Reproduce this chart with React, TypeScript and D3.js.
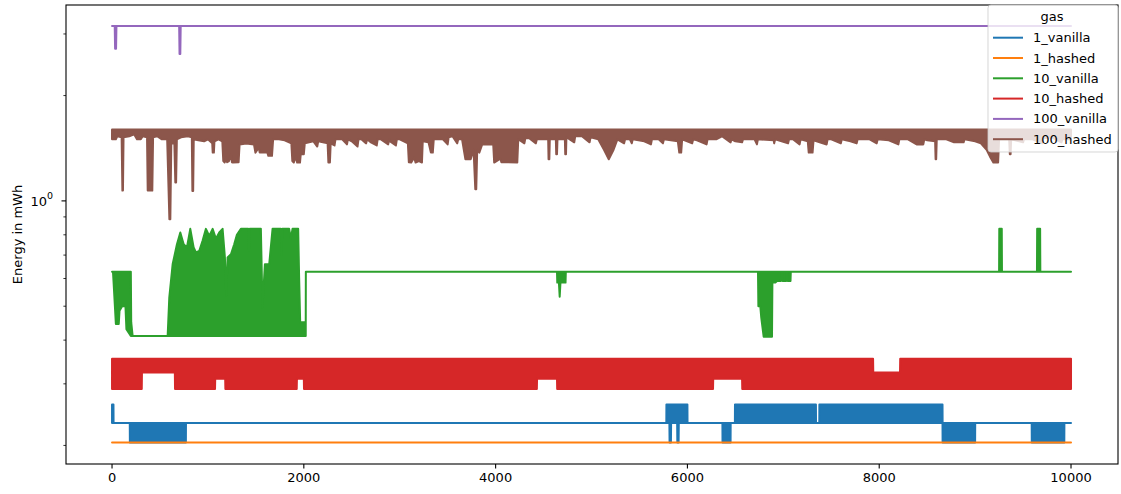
import React from 'react'
import * as d3 from 'd3'

// series are kept as envelopes: [step, low, high] in mWh
const seriesNames = ['1_vanilla', '1_hashed', '10_vanilla', '10_hashed', '100_vanilla', '100_hashed']
const seriesColors = ['#1f77b4', '#ff7f0e', '#2ca02c', '#d62728', '#9467bd', '#8c564b']

const xTicks = [0, 2000, 4000, 6000, 8000, 10000]
const yMajorTicks = [1]
const yMinorTicks = [0.2, 0.3, 0.4, 0.5, 0.6, 0.7, 0.8, 0.9, 2, 3]

const vanilla1 = [
  [0, 0.232, 0.262], [15, 0.232, 0.262], [16, 0.232, 0.232], [185, 0.232, 0.232],
  [186, 0.204, 0.232], [770, 0.204, 0.232], [771, 0.232, 0.232], [5780, 0.232, 0.232],
  [5781, 0.232, 0.262], [5812, 0.232, 0.262], [5814, 0.204, 0.262], [5828, 0.204, 0.262],
  [5830, 0.232, 0.262], [5893, 0.232, 0.262], [5895, 0.204, 0.262], [5908, 0.204, 0.262],
  [5910, 0.232, 0.262], [6000, 0.232, 0.262], [6001, 0.232, 0.232], [6365, 0.232, 0.232],
  [6366, 0.204, 0.232], [6450, 0.204, 0.232], [6451, 0.232, 0.232], [6495, 0.232, 0.232],
  [6496, 0.232, 0.262], [7340, 0.232, 0.262], [7341, 0.232, 0.232], [7375, 0.232, 0.232],
  [7376, 0.232, 0.262], [8660, 0.232, 0.262], [8661, 0.204, 0.232], [9000, 0.204, 0.232],
  [9001, 0.232, 0.232], [9590, 0.232, 0.232], [9591, 0.204, 0.232], [9930, 0.204, 0.232],
  [9931, 0.232, 0.232], [10000, 0.232, 0.232],
]

const hashed1 = [[0, 0.204, 0.204], [10000, 0.204, 0.204]]

const vanilla10 = [
  [0, 0.627, 0.627], [10, 0.627, 0.627], [17, 0.58, 0.627], [40, 0.445, 0.627],
  [70, 0.445, 0.627], [78, 0.485, 0.627], [105, 0.5, 0.627], [140, 0.5, 0.627],
  [150, 0.43, 0.627], [196, 0.411, 0.627], [200, 0.411, 0.45], [215, 0.411, 0.411],
  [580, 0.411, 0.411], [597, 0.411, 0.529], [632, 0.411, 0.659], [677, 0.411, 0.752],
  [712, 0.411, 0.812], [747, 0.411, 0.752], [781, 0.411, 0.736], [816, 0.411, 0.832],
  [851, 0.411, 0.736], [875, 0.411, 0.712], [910, 0.411, 0.72], [944, 0.411, 0.769],
  [979, 0.411, 0.832], [1014, 0.411, 0.794], [1049, 0.411, 0.832], [1083, 0.411, 0.78],
  [1118, 0.411, 0.812], [1153, 0.411, 0.832], [1177, 0.411, 0.689], [1191, 0.411, 0.535],
  [1205, 0.411, 0.689], [1240, 0.411, 0.704], [1274, 0.411, 0.752], [1302, 0.411, 0.8],
  [1344, 0.411, 0.832], [1420, 0.411, 0.832], [1428, 0.411, 0.72], [1436, 0.411, 0.832],
  [1552, 0.411, 0.832], [1569, 0.411, 0.496], [1594, 0.411, 0.659],
  [1639, 0.411, 0.659], [1674, 0.411, 0.832], [1760, 0.411, 0.832], [1768, 0.411, 0.7],
  [1776, 0.411, 0.832], [1847, 0.411, 0.832], [1865, 0.411, 0.78],
  [1882, 0.411, 0.832], [1941, 0.411, 0.832], [1951, 0.411, 0.604], [1962, 0.411, 0.45],
  [2020, 0.411, 0.45], [2021, 0.627, 0.627], [4640, 0.627, 0.627], [4643, 0.584, 0.627],
  [4660, 0.584, 0.627], [4668, 0.532, 0.627], [4676, 0.584, 0.627], [4729, 0.584, 0.627],
  [4732, 0.627, 0.627], [6736, 0.627, 0.627], [6740, 0.5, 0.627], [6760, 0.5, 0.627],
  [6770, 0.464, 0.627], [6795, 0.409, 0.627], [6882, 0.409, 0.627], [6886, 0.584, 0.627],
  [6917, 0.584, 0.627], [6934, 0.59, 0.627], [6975, 0.59, 0.627], [6978, 0.627, 0.627],
  [6990, 0.627, 0.627], [6993, 0.59, 0.627], [7030, 0.59, 0.627], [7033, 0.627, 0.627],
  [7043, 0.627, 0.627], [7046, 0.59, 0.627], [7075, 0.59, 0.627], [7078, 0.627, 0.627],
  [9250, 0.627, 0.627], [9252, 0.627, 0.832], [9278, 0.627, 0.832], [9280, 0.627, 0.627],
  [9645, 0.627, 0.627], [9647, 0.627, 0.832], [9678, 0.627, 0.832], [9680, 0.627, 0.627],
  [10000, 0.627, 0.627],
]

const hashed10 = [
  [0, 0.29, 0.354], [310, 0.29, 0.354], [312, 0.323, 0.354], [655, 0.323, 0.354],
  [657, 0.29, 0.354], [1074, 0.29, 0.354], [1076, 0.31, 0.354], [1180, 0.31, 0.354],
  [1182, 0.29, 0.354], [1926, 0.29, 0.354], [1928, 0.31, 0.354], [2000, 0.31, 0.354],
  [2002, 0.29, 0.354], [4430, 0.29, 0.354], [4432, 0.31, 0.354], [4640, 0.31, 0.354],
  [4642, 0.29, 0.354], [6267, 0.29, 0.354], [6269, 0.31, 0.354], [6570, 0.31, 0.354],
  [6572, 0.29, 0.354], [7936, 0.29, 0.354], [7938, 0.29, 0.323], [8217, 0.29, 0.323],
  [8219, 0.29, 0.354], [10000, 0.29, 0.354],
]

const vanilla100 = [
  [0, 3.16, 3.16], [28, 3.16, 3.16], [32, 2.72, 3.16], [42, 2.72, 3.16], [46, 3.16, 3.16],
  [700, 3.16, 3.16], [704, 2.63, 3.16], [712, 2.63, 3.16], [716, 3.16, 3.16], [10000, 3.16, 3.16],
]

// 100_hashed sits at its top of 1.6 and dips down from it
const hashed100Top = 1.6
const hashed100Low = [
  [0, 1.5], [40, 1.5], [55, 1.53], [100, 1.52], [108, 1.07], [114, 1.07], [120, 1.52],
  [180, 1.53], [230, 1.55], [260, 1.5], [300, 1.5], [320, 1.53], [365, 1.52], [372, 1.07],
  [420, 1.07], [428, 1.52], [470, 1.53], [520, 1.5], [575, 1.5], [598, 0.886], [608, 0.886],
  [618, 1.46], [650, 1.46], [660, 1.128], [668, 1.128], [676, 1.5], [720, 1.52], [790, 1.53],
  [832, 1.52], [838, 1.068], [846, 1.068], [852, 1.5], [900, 1.49], [960, 1.48], [1000, 1.5],
  [1045, 1.46], [1050, 1.374], [1062, 1.374], [1068, 1.48], [1110, 1.5], [1150, 1.48],
  [1160, 1.3], [1175, 1.287], [1190, 1.33], [1200, 1.29], [1220, 1.3], [1240, 1.36],
  [1250, 1.29], [1260, 1.287], [1320, 1.29], [1330, 1.45],
  [1400, 1.46], [1480, 1.45], [1495, 1.374], [1530, 1.42], [1540, 1.374], [1620, 1.374],
  [1630, 1.345], [1668, 1.345], [1680, 1.5], [1740, 1.5], [1800, 1.49], [1870, 1.46],
  [1880, 1.3], [1895, 1.287], [1920, 1.34], [1930, 1.287], [1960, 1.287], [1968, 1.36],
  [2000, 1.36], [2010, 1.46], [2100, 1.48], [2140, 1.43], [2150, 1.48],
  [2200, 1.47], [2248, 1.46], [2256, 1.287], [2272, 1.287], [2280, 1.46],
  [2320, 1.44], [2330, 1.5], [2400, 1.5], [2450, 1.45], [2460, 1.5], [2500, 1.48],
  [2560, 1.43], [2570, 1.5], [2600, 1.5], [2650, 1.46], [2660, 1.5], [2700, 1.47],
  [2760, 1.44], [2770, 1.5], [2800, 1.5], [2880, 1.45], [2890, 1.5], [2900, 1.48],
  [2960, 1.44], [2970, 1.5], [3000, 1.5],
  [3085, 1.46], [3095, 1.29], [3120, 1.287], [3150, 1.33], [3165, 1.287], [3200, 1.3],
  [3232, 1.287], [3240, 1.48], [3300, 1.47], [3325, 1.374], [3345, 1.374], [3355, 1.5],
  [3450, 1.5], [3500, 1.45], [3510, 1.52], [3550, 1.53], [3600, 1.46], [3610, 1.5],
  [3650, 1.5], [3685, 1.315], [3740, 1.315], [3770, 1.4], [3788, 1.08], [3798, 1.08],
  [3808, 1.4], [3830, 1.374], [3860, 1.45], [3975, 1.45], [3985, 1.287], [4050, 1.32],
  [4060, 1.29], [4100, 1.29], [4226, 1.287], [4236, 1.5], [4300, 1.46], [4310, 1.51],
  [4350, 1.51], [4420, 1.46], [4430, 1.5], [4500, 1.5], [4548, 1.5], [4552, 1.315],
  [4560, 1.315], [4565, 1.5], [4628, 1.5], [4632, 1.36], [4640, 1.36], [4645, 1.5],
  [4722, 1.5], [4726, 1.36], [4734, 1.36], [4738, 1.52], [4820, 1.47], [4830, 1.53],
  [4900, 1.53], [4980, 1.47], [4990, 1.52], [5070, 1.5],
  [5130, 1.4], [5180, 1.315], [5230, 1.4], [5270, 1.5], [5340, 1.46], [5350, 1.5],
  [5400, 1.5], [5420, 1.46], [5430, 1.5], [5550, 1.48], [5620, 1.45], [5630, 1.5],
  [5700, 1.5], [5745, 1.46], [5755, 1.5], [5900, 1.48], [5915, 1.374], [5935, 1.374],
  [5945, 1.5], [6050, 1.46], [6060, 1.5], [6100, 1.49], [6200, 1.45], [6210, 1.5],
  [6300, 1.5], [6360, 1.53], [6450, 1.47], [6460, 1.5], [6500, 1.48], [6570, 1.47],
  [6580, 1.5], [6700, 1.5], [6725, 1.45], [6735, 1.5], [6900, 1.49], [6905, 1.46],
  [6915, 1.5], [7050, 1.46], [7060, 1.5], [7100, 1.5], [7170, 1.45], [7180, 1.5],
  [7255, 1.48], [7265, 1.374], [7305, 1.374], [7315, 1.49], [7452, 1.45], [7462, 1.5],
  [7500, 1.5], [7600, 1.46], [7610, 1.5], [7700, 1.48], [7765, 1.46], [7775, 1.5],
  [7900, 1.5], [7974, 1.46], [7984, 1.5], [8100, 1.49], [8200, 1.45], [8210, 1.5],
  [8300, 1.5], [8390, 1.45], [8460, 1.45], [8470, 1.5], [8500, 1.49],
  [8583, 1.48], [8588, 1.315], [8594, 1.315], [8600, 1.5], [8700, 1.5], [8780, 1.47],
  [8880, 1.47], [8890, 1.5], [9000, 1.48], [9060, 1.46], [9120, 1.4], [9160, 1.33],
  [9190, 1.287], [9240, 1.287], [9250, 1.5], [9355, 1.5], [9362, 1.36], [9370, 1.36],
  [9376, 1.5], [9500, 1.47], [9510, 1.5], [9600, 1.5], [9700, 1.46], [9710, 1.51],
  [9800, 1.52], [9900, 1.47], [9910, 1.5], [10000, 1.5],
]
const hashed100 = hashed100Low.map(d => [d[0], d[1], hashed100Top])

const allSeries = [vanilla1, hashed1, vanilla10, hashed10, vanilla100, hashed100]

export default function App() {
  const width = 1121
  const height = 494
  const plot = { left: 66, right: 1118, top: 5, bottom: 464 }

  const x = d3.scaleLinear().domain([-480, 10490]).range([plot.left, plot.right])
  const y = d3.scaleLog().domain([0.177, 3.63]).range([plot.bottom, plot.top])

  const area = d3.area<number[]>()
    .x(d => x(d[0]))
    .y0(d => y(d[1]))
    .y1(d => y(d[2]))

  const font = '"DejaVu Sans", sans-serif'
  const legendX = 988
  const legendY = 5
  const rowGap = 20.3

  return (
    <svg width={width} height={height} style={{ position: 'absolute', left: 0, top: 0, background: '#fff' }}
      fontFamily={font} fontSize={13}>
      <defs>
        <clipPath id="plotclip">
          <rect x={plot.left} y={plot.top} width={plot.right - plot.left} height={plot.bottom - plot.top} />
        </clipPath>
      </defs>

      <g clipPath="url(#plotclip)">
        {allSeries.map((s, i) => (
          <path key={seriesNames[i]} d={area(s) || ''} fill={seriesColors[i]} stroke={seriesColors[i]}
            strokeWidth={2} strokeLinejoin="round" />
        ))}
      </g>

      {/* spines */}
      <rect x={plot.left} y={plot.top} width={plot.right - plot.left} height={plot.bottom - plot.top}
        fill="none" stroke="#000" strokeWidth={1.1} />

      {/* x axis */}
      {xTicks.map(t => (
        <g key={t} transform={`translate(${x(t)},${plot.bottom})`}>
          <line y2={4.5} stroke="#000" strokeWidth={1.1} />
          <text y={18} textAnchor="middle" fill="#000">{t}</text>
        </g>
      ))}

      {/* y axis */}
      {yMajorTicks.map(t => (
        <g key={t} transform={`translate(${plot.left},${y(t)})`}>
          <line x2={-4.5} stroke="#000" strokeWidth={1.1} />
          <text x={-13} y={5} textAnchor="end" fill="#000">
            10<tspan dy={-6.5} fontSize={9.5}>0</tspan>
          </text>
        </g>
      ))}
      {yMinorTicks.map(t => (
        <line key={t} x1={plot.left} x2={plot.left - 2.6} y1={y(t)} y2={y(t)} stroke="#000" strokeWidth={0.8} />
      ))}
      <text transform={`translate(17,${(plot.top + plot.bottom) / 2}) rotate(-90)`} textAnchor="middle"
        dominantBaseline="central" fill="#000">Energy in mWh</text>

      {/* legend */}
      <g>
        <rect x={legendX} y={legendY} width={plot.right - legendX} height={147} rx={3}
          fill="#fff" fillOpacity={0.8} stroke="#cccccc" strokeOpacity={0.8} strokeWidth={1} />
        <text x={1052} y={21} textAnchor="middle" fill="#000">gas</text>
        {seriesNames.map((n, i) => (
          <g key={n} transform={`translate(${legendX},${37.7 + i * rowGap})`}>
            <line x1={5} x2={35} stroke={seriesColors[i]} strokeWidth={2} />
            <text x={45} y={4.5} fill="#000">{n}</text>
          </g>
        ))}
      </g>
    </svg>
  )
}
